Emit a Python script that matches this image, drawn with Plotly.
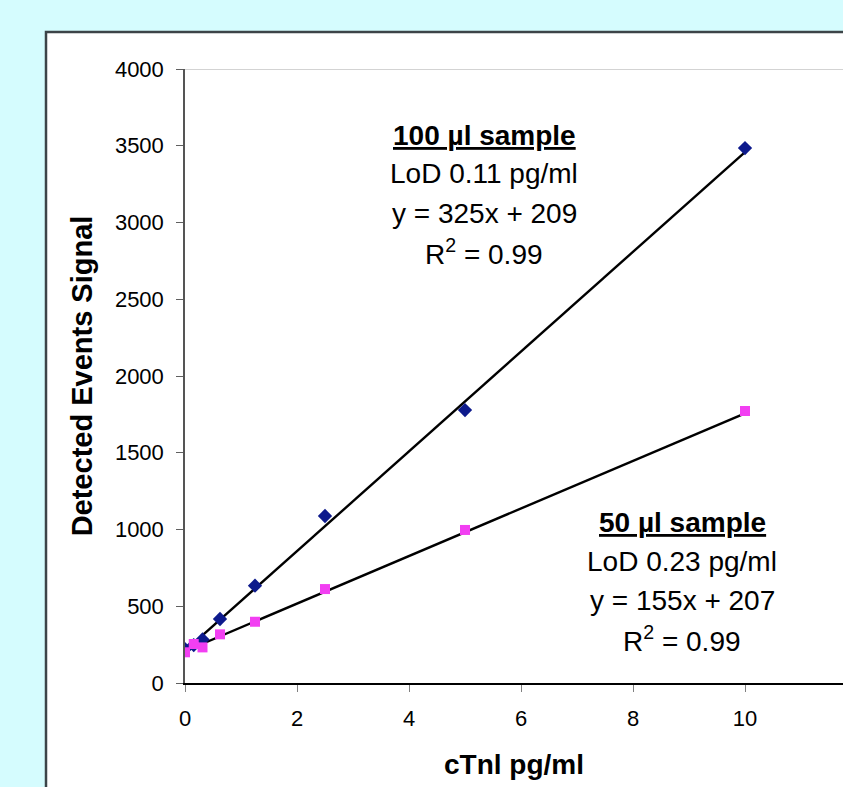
import plotly.graph_objects as go

# cTnI concentration series (pg/ml) and detected events signal
conc = [0, 0.156, 0.3125, 0.625, 1.25, 2.5, 5, 10]
signal_100ul = [221, 247, 284, 417, 634, 1088, 1778, 3485]
signal_50ul = [200, 254, 232, 317, 399, 612, 997, 1772]

# linear fits reported for each sample volume
fit_100ul = {"slope": 325, "intercept": 209, "r2": 0.99, "lod": 0.11}
fit_50ul = {"slope": 155, "intercept": 207, "r2": 0.99, "lod": 0.23}
fit_x = [0, 10]

x_ticks = [0, 2, 4, 6, 8, 10]
y_ticks = [0, 500, 1000, 1500, 2000, 2500, 3000, 3500, 4000]

FONT = "Liberation Sans, Arial, sans-serif"

fig = go.Figure()

for fit in (fit_100ul, fit_50ul):
    fig.add_trace(go.Scatter(
        x=fit_x,
        y=[fit["slope"] * v + fit["intercept"] for v in fit_x],
        mode="lines", line=dict(color="black", width=2.4),
        showlegend=False, hoverinfo="skip",
    ))

fig.add_trace(go.Scatter(
    x=conc, y=signal_100ul, mode="markers", name="100 µl sample",
    marker=dict(symbol="diamond", size=11, color="#0d1a8c"),
    showlegend=False,
))
fig.add_trace(go.Scatter(
    x=conc, y=signal_50ul, mode="markers", name="50 µl sample",
    marker=dict(symbol="square", size=10, color="#f23ff2"),
    showlegend=False,
))

def label_lines(title, fit):
    return [
        f"<b><u>{title}</u></b>",
        f"LoD {fit['lod']:.2f} pg/ml",
        f"y = {fit['slope']}x + {fit['intercept']}",
        f"R<sup>2</sup> = {fit['r2']:.2f}",
    ]

annotations = []
# label blocks placed in pixel offsets from the plot area
for title, fit, cx, top in (("100 µl sample", fit_100ul, 484, 135),
                            ("50 µl sample", fit_50ul, 682, 522)):
    for i, line in enumerate(label_lines(title, fit)):
        py = top + i * 39
        annotations.append(dict(
            xref="paper", yref="paper",
            x=(cx - 185) / 658, y=(683 - py) / 614,
            text=line, showarrow=False, xanchor="center", yanchor="middle",
            font=dict(family=FONT, size=28, color="black"),
        ))

fig.update_layout(
    width=843, height=787,
    margin=dict(l=185, r=0, t=69, b=104),
    paper_bgcolor="#d5fcfe",
    plot_bgcolor="white",
    annotations=annotations,
    shapes=[
        # white chart area with dark frame
        dict(type="rect", xref="paper", yref="paper",
             x0=(46 - 185) / 658, x1=1.2, y0=-0.3, y1=(683 - 32) / 614,
             fillcolor="white", line=dict(color="#3c4448", width=2.5),
             layer="below"),
        # plot-area top border
        dict(type="line", xref="paper", yref="y",
             x0=0, x1=1, y0=4000, y1=4000,
             line=dict(color="#c4c4c4", width=1.5), layer="below"),
    ],
    xaxis=dict(
        range=[0, 658 / 56], tickvals=x_ticks, ticks="outside", ticklen=7,
        tickcolor="#808080", showgrid=False, zeroline=False,
        showline=True, linecolor="black", linewidth=1.5,
        ticklabelstandoff=8,
        tickfont=dict(family=FONT, size=22, color="black"),
        title=dict(text="<b>cTnl pg/ml</b>", standoff=24,
                   font=dict(family=FONT, size=28, color="black")),
    ),
    yaxis=dict(
        range=[0, 4000], tickvals=y_ticks, ticks="outside", ticklen=7,
        tickcolor="#606060", showgrid=False, zeroline=False,
        showline=True, linecolor="#555555", linewidth=1.5,
        ticklabelstandoff=8,
        tickfont=dict(family=FONT, size=22, color="black"),
        title=dict(text="<b>Detected Events Signal</b>", standoff=14,
                   font=dict(family=FONT, size=29, color="black")),
    ),
)

fig.write_html("out.html")
